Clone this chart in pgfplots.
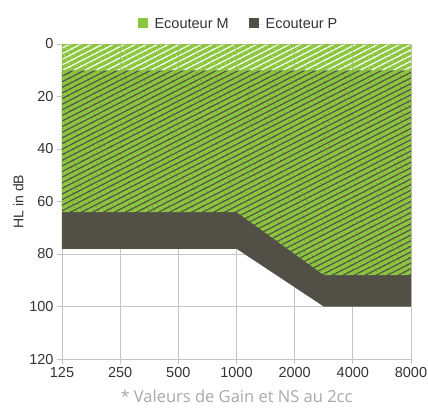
\documentclass[border=0pt]{standalone}
\usepackage{fontspec}
\setmainfont{Liberation Sans}
\newfontfamily\footfont{Open Sans}
\usepackage{pgfplots}
\pgfplotsset{compat=1.18}
\usetikzlibrary{patterns.meta}
\definecolor{mgreen}{HTML}{8CC63F}
\definecolor{pdark}{HTML}{524F47}
\definecolor{gridgray}{HTML}{C4C4C4}
\definecolor{labgray}{HTML}{333333}
\definecolor{footgray}{HTML}{A8A8A8}

\begin{document}
\begin{tikzpicture}
\begin{axis}[
    name=ax,
    scale only axis,
    width=349pt, height=315pt,
    xmin=0, xmax=6, ymin=0, ymax=120,
    y dir=reverse,
    xtick={0,...,6},
    xticklabels={125,250,500,1000,2000,4000,8000},
    ytick={0,20,...,120},
    grid=major,
    grid style={gridgray, line width=0.8pt},
    axis line style={gridgray, line width=0.8pt},
    tick style={gridgray, line width=0.8pt},
    tick align=outside,
    tick pos=left,
    major tick length=5pt,
    tick label style={font=\fontsize{14.5}{16}\selectfont, text=labgray},
    /pgf/number format/assume math mode=true,
    ylabel={HL in dB},
    ylabel style={font=\fontsize{14}{16}\selectfont, text=labgray, yshift=-1pt},
    legend style={at={(0.5,1)}, anchor=south, xshift=2pt, yshift=10pt, draw=none,
        font=\fontsize{14.5}{16}\selectfont, text=labgray,
        /tikz/every even column/.append style={column sep=18pt}},
    legend columns=2,
    reverse legend,
]
% Ecouteur P (dark band)
\addplot[fill=pdark, draw=none,
    legend image code/.code={\fill[pdark] (0pt,-4pt) rectangle (10pt,6pt); \path (0pt,0pt) -- (15pt,0pt);}]
    coordinates {(0,10) (6,10) (6,100) (4.5,100) (3,78) (0,78)} -- cycle;
% Ecouteur M (hatched green)
\addplot[draw=none, pattern={Lines[angle=27, distance=5pt, line width=3.6pt]},
    pattern color=mgreen,
    legend image code/.code={\fill[mgreen] (0pt,-4pt) rectangle (10pt,6pt); \path (0pt,0pt) -- (15pt,0pt);}]
    coordinates {(0,0) (6,0) (6,88) (4.5,88) (3,64) (0,64)} -- cycle;
\legend{Ecouteur P, Ecouteur M}
\end{axis}
\node[font=\footfont\fontsize{16.5}{18}\selectfont, text=footgray] at ([yshift=-37pt]ax.south) {* Valeurs de Gain et NS au 2cc};
\pgfresetboundingbox
\path[use as bounding box] ([xshift=-62pt,yshift=-49pt]ax.south west) rectangle ([xshift=17pt,yshift=44pt]ax.north east);
\end{tikzpicture}
\end{document}
